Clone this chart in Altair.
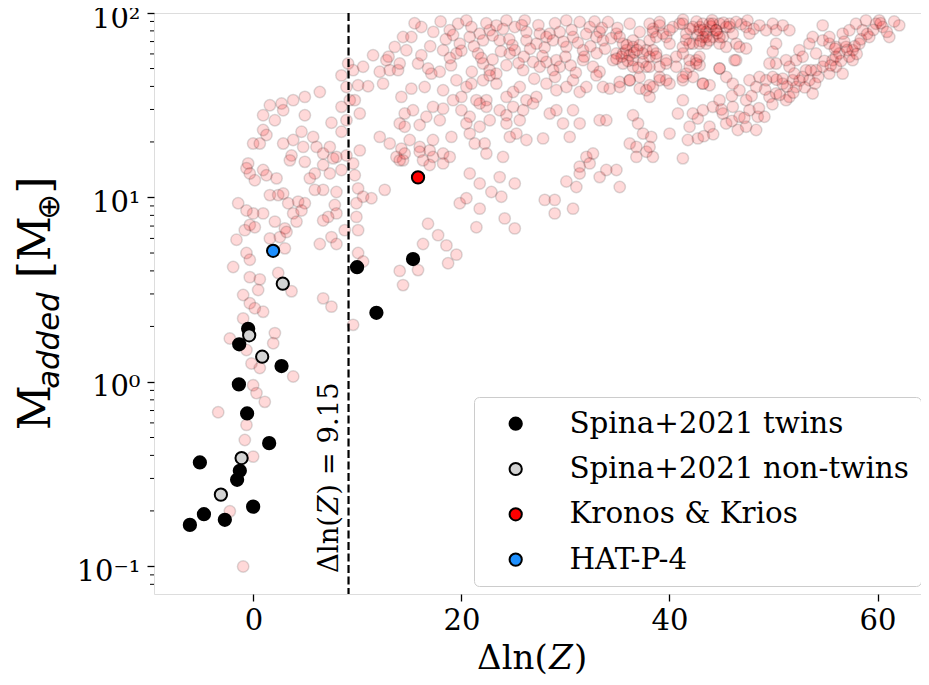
import altair as alt
import pandas as pd

# ---------------- data ----------------
# background model cloud: (delta ln Z, M_added [M_earth])
cloud_left = [
    (9.11, 53.2), (8.47, 45.9), (9.59, 49.0), (10.55, 51.1), (11.51, 59.0), (12.79, 55.5), (13.59, 65.5),
    (14.39, 74.1), (12.15, 48.0), (13.11, 49.0), (10.07, 40.6), (11.03, 40.1), (8.95, 39.7), (9.27, 33.7),
    (9.75, 33.7), (8.47, 31.0), (10.23, 28.5), (8.95, 26.2), (7.51, 25.4), (8.47, 22.7), (6.39, 37.3),
    (4.95, 35.1), (3.83, 33.7), (2.71, 32.3), (1.59, 31.6), (0.94, 27.9), (2.07, 26.2), (4.95, 27.9),
    (2.87, 29.7), (0.94, 23.2), (1.26, 21.8), (-0.02, 19.6), (0.62, 19.6), (2.87, 19.6), (3.83, 20.5),
    (4.63, 22.7), (5.75, 21.3), (4.79, 18.8), (3.67, 16.9), (3.51, 15.9), (4.95, 15.6), (6.07, 18.8),
    (6.71, 17.3), (7.35, 18.8), (7.99, 16.6), (8.95, 16.9), (9.59, 15.3), (8.47, 14.1), (7.67, 16.3),
    (5.91, 13.5), (6.71, 15.0), (5.43, 12.7), (6.71, 11.0), (7.99, 10.7), (5.91, 11.0), (7.35, 13.5),
    (9.75, 13.2), (10.23, 18.0), (10.07, 11.2), (10.55, 10.1), (11.35, 9.9), (12.63, 11.0), (-0.50, 15.3),
    (-0.66, 14.4), (0.14, 12.4), (-0.34, 13.5), (0.94, 14.1), (1.26, 13.2), (2.23, 12.7), (1.59, 10.3),
    (2.39, 10.3), (2.87, 10.5), (3.35, 9.3), (4.31, 9.5), (4.95, 9.3), (3.83, 8.2), (4.63, 8.5),
    (4.15, 7.4), (3.03, 6.8), (2.07, 7.4), (0.94, 8.2), (-0.02, 8.2), (-0.66, 8.5), (-1.46, 9.3),
    (-0.82, 6.65), (-0.34, 7.1), (-1.62, 5.9), (1.59, 6.0), (2.55, 6.1), (3.19, 6.5), (3.03, 5.3),
    (0.14, 6.9), (-0.66, 5.0), (-0.34, 4.6), (-1.94, 4.2), (-0.34, 3.7), (0.62, 3.6), (0.46, 3.15),
    (-0.98, 2.96), (2.39, 3.9), (3.67, 3.1), (6.71, 2.84), (7.51, 6.1), (6.39, 5.6), (7.99, 5.6),
    (8.79, 6.65), (10.07, 6.65), (9.91, 7.85), (9.91, 9.3), (7.83, 9.1), (7.99, 8.2), (7.19, 7.85),
    (6.71, 7.5), (10.07, 5.0), (10.55, 4.5), (14.07, 4.0), (14.39, 3.35), (12.47, 41.4), (13.91, 49.0),
    (12.15, 21.3), (13.11, 19.6), (14.23, 18.4), (13.75, 16.6), (14.39, 15.9),
    (-0.34, 2.67), (0.94, 2.40), (0.14, 2.51), (-0.98, 2.21), (-2.26, 1.72), (-0.66, 1.49), (-0.18, 1.26),
    (0.62, 1.19), (2.07, 1.84), (1.91, 1.62), (7.51, 2.56), (9.59, 2.04), (3.83, 1.07), (-0.02, 0.96),
    (0.30, 0.87), (1.10, 0.78), (-3.38, 0.685), (-0.66, 0.585), (-0.82, 0.485), (-0.02, 0.394),
    (-2.26, 0.199), (-0.98, 0.100),
]
cloud_mid = [
    (16.15, 84.0), (18.88, 80.6), (19.68, 87.5), (20.48, 91.2), (20.96, 84.0), (21.76, 77.3), (22.72, 80.6),
    (23.36, 85.7), (24.33, 91.2), (25.13, 84.0), (26.09, 91.2), (26.25, 78.9), (27.53, 77.3), (28.49, 77.3),
    (29.45, 78.9), (30.09, 91.2), (31.37, 89.4), (32.33, 84.0), (33.29, 78.9), (34.09, 89.4), (34.90, 77.3),
    (36.18, 87.5), (37.14, 78.9), (38.42, 82.2),
    (15.19, 74.1), (18.24, 62.8), (19.84, 68.2), (20.80, 74.1), (22.08, 71.1), (19.52, 60.3), (21.60, 60.3),
    (23.68, 71.1), (24.65, 60.3), (25.13, 62.8), (26.25, 71.1), (27.21, 68.2), (28.17, 74.1), (28.81, 71.1),
    (30.09, 65.5), (30.73, 74.1), (31.69, 62.8), (32.97, 74.1), (33.61, 71.1), (34.90, 60.3), (35.54, 68.2),
    (36.50, 71.1), (37.78, 62.8),
    (14.71, 62.8), (14.07, 53.2), (16.15, 59.0), (15.83, 53.2), (22.08, 53.2), (22.72, 49.0), (23.36, 46.9),
    (24.33, 52.1), (25.93, 49.0), (26.89, 54.3), (27.53, 51.1), (28.17, 54.3), (29.13, 55.5), (29.45, 51.1),
    (28.81, 49.0), (31.69, 55.5), (32.65, 51.1), (33.29, 48.0), (34.58, 55.5), (35.54, 60.3), (36.50, 55.5),
    (37.78, 51.1),
    (17.11, 46.9), (17.92, 48.0), (18.24, 38.1), (16.47, 39.7), (15.19, 38.9), (14.23, 35.1), (19.52, 43.2),
    (20.48, 39.7), (20.00, 35.1), (20.96, 41.4), (22.08, 43.2), (22.72, 45.9), (21.44, 33.7), (22.40, 33.7),
    (23.36, 41.4), (24.33, 35.1), (24.97, 37.3), (25.61, 39.7), (26.25, 33.7), (27.21, 35.1), (28.17, 41.4),
    (29.13, 38.1), (30.09, 39.7), (30.73, 43.2), (31.37, 37.3), (32.01, 39.7), (32.97, 45.9), (33.61, 39.7),
    (34.26, 38.9), (35.22, 39.7), (36.18, 43.2), (37.14, 38.9),
    (14.55, 28.5), (15.35, 29.7), (17.27, 31.0), (18.24, 30.3), (19.20, 33.7), (20.00, 29.7), (21.76, 32.3),
    (22.40, 31.0), (23.68, 29.7), (24.33, 27.9), (24.97, 31.0), (25.93, 29.7), (26.89, 32.3), (25.61, 26.2),
    (24.33, 25.2), (22.72, 26.2), (21.76, 24.2), (20.80, 27.4), (20.48, 25.2), (17.92, 26.2), (16.63, 27.4),
    (15.99, 24.7), (14.07, 25.2), (28.49, 28.5), (29.13, 29.7), (29.77, 25.2), (30.73, 29.7), (31.37, 25.2),
    (33.29, 26.2), (33.93, 26.2),
    (14.55, 24.2), (15.03, 20.5), (15.99, 18.8), (17.27, 20.5), (16.95, 18.0), (17.27, 16.6), (19.04, 21.3),
    (20.80, 22.2), (21.28, 19.6), (22.24, 19.6), (22.40, 17.3), (24.00, 16.6), (24.65, 21.3), (25.29, 22.2),
    (26.25, 20.5), (27.85, 20.9), (30.41, 21.3),
    (14.07, 15.9), (14.55, 17.3), (15.99, 17.7), (16.31, 15.9), (16.95, 15.0), (18.24, 17.3), (18.88, 16.6),
    (18.24, 15.3), (20.80, 13.5), (21.76, 11.9), (23.68, 12.9), (25.13, 11.9), (30.09, 12.2), (31.05, 11.4),
    (31.37, 14.7), (32.01, 16.6), (32.65, 17.3), (32.33, 15.3), (33.29, 12.9), (33.93, 14.1), (34.90, 14.1),
    (35.22, 11.4), (31.37, 13.5),
    (19.84, 9.3), (20.48, 9.9), (21.76, 8.7), (22.88, 10.7), (23.84, 10.1), (28.01, 9.7), (28.97, 9.7),
    (28.97, 8.2), (30.73, 8.7), (21.44, 6.9), (24.16, 7.7), (25.13, 6.8), (16.79, 7.2), (16.31, 5.6),
    (17.76, 6.25), (18.56, 5.5), (19.52, 4.9), (18.72, 4.4), (15.83, 4.04),
    (36.18, 19.6), (36.82, 18.8), (37.46, 22.2), (37.78, 17.7), (36.82, 16.6), (36.50, 27.9), (36.98, 25.2),
    (31.8, 58.0), (33.0, 60.5), (32.4, 66.0), (33.8, 64.0), (30.5, 52.0), (31.0, 47.5), (29.0, 45.0),
    (27.0, 44.0), (26.0, 58.0), (24.9, 67.0), (23.0, 56.0), (21.0, 48.0), (19.0, 52.0), (18.5, 72.0),
    (17.0, 66.0),
    (15.5, 88.0), (17.3, 79.0), (18.0, 90.0), (19.2, 76.0), (21.2, 66.0), (22.4, 88.0), (23.0, 75.5),
    (24.0, 82.0), (24.6, 72.0), (25.8, 86.0), (26.6, 64.0), (27.4, 86.0), (28.0, 65.0), (29.0, 88.0),
    (29.8, 70.0), (30.6, 81.0), (31.2, 69.0), (32.0, 77.0), (32.8, 90.0), (33.5, 83.0), (34.4, 73.0),
    (35.0, 83.0), (13.0, 58.0), (16.8, 50.0), (18.9, 57.0), (20.0, 62.5), (21.9, 57.0), (23.8, 62.0),
    (25.5, 53.5), (27.8, 58.5), (30.0, 58.0),
]
cloud_dense = [
    (35.21, 74.1), (35.85, 62.8), (36.17, 59.0), (36.49, 65.5), (37.13, 66.9), (37.45, 60.3), (38.09, 71.1),
    (38.41, 78.9), (39.05, 85.7), (39.69, 74.1), (40.33, 84.0), (40.97, 87.5), (41.61, 77.3), (42.26, 68.2),
    (42.58, 55.5), (42.90, 84.0), (43.54, 78.9), (44.18, 74.1), (44.82, 87.5), (45.78, 84.0), (46.42, 68.2),
    (35.53, 53.2), (36.49, 51.1), (37.45, 54.3), (38.09, 57.9), (38.73, 60.3), (39.05, 51.1), (39.69, 53.2),
    (40.65, 57.9), (41.29, 60.3), (41.61, 46.9), (41.94, 51.1), (42.90, 52.1), (43.54, 68.2), (43.22, 74.1),
    (44.50, 80.6), (45.14, 74.1), (43.86, 87.5), (35.21, 42.3), (36.17, 43.2), (37.13, 45.0), (37.77, 38.1),
    (38.09, 40.6), (39.05, 43.2), (40.01, 41.4), (41.29, 43.2), (42.26, 45.0), (43.22, 41.4), (44.82, 50.0),
    (46.26, 55.5), (43.86, 40.6), (45.46, 45.0),
    (36.0, 55.0), (36.6, 61.0), (35.4, 58.0), (37.0, 50.5), (34.9, 56.5), (35.9, 67.0), (36.9, 63.0),
    (42.0, 82.0), (42.7, 76.0), (43.3, 81.0), (44.0, 84.5), (41.6, 71.5), (43.0, 70.5), (44.6, 77.5),
    (45.2, 88.5), (41.3, 92.0), (42.6, 90.0), (44.1, 91.5), (46.9, 87.0), (48.1, 82.0), (47.5, 91.0),
]
cloud_right = [
    (38.09, 87.5), (39.05, 89.4), (39.37, 77.3), (40.01, 80.6), (41.29, 87.5), (42.25, 84.0), (42.89, 80.6),
    (43.21, 87.5), (43.53, 74.1), (44.17, 87.5), (44.49, 80.6), (43.85, 71.1), (44.81, 74.1), (45.45, 84.0),
    (45.77, 87.5), (46.09, 77.3), (46.41, 89.4), (47.37, 84.0), (47.69, 77.3), (48.65, 85.7), (49.29, 80.6),
    (49.93, 87.5), (50.25, 80.6), (50.89, 85.7), (51.53, 80.6), (46.73, 65.5), (47.37, 64.2), (45.45, 65.5),
    (44.81, 68.2), (42.89, 68.2), (41.93, 68.2), (41.29, 65.5), (40.01, 68.2), (38.73, 74.1), (38.41, 62.8),
    (38.73, 57.9), (39.69, 55.5), (38.09, 51.1), (39.05, 45.0), (40.65, 51.1), (41.29, 45.0), (41.93, 55.5),
    (42.57, 53.2), (42.89, 57.9), (43.21, 41.4), (44.81, 50.0), (46.41, 55.5), (38.41, 39.7), (39.69, 43.2),
    (38.09, 35.1), (38.25, 21.3), (38.09, 18.8), (38.41, 16.6), (40.01, 22.2), (41.29, 33.7), (40.81, 28.5),
    (41.93, 24.2), (41.77, 20.5), (42.73, 20.9), (41.29, 16.3), (42.25, 28.5), (42.73, 26.8), (43.21, 29.7),
    (43.85, 24.2), (44.17, 31.0), (44.81, 33.7), (45.45, 25.2), (45.13, 28.5), (46.09, 31.0), (46.57, 23.2),
    (46.73, 27.4), (47.37, 33.7), (47.69, 29.7), (47.37, 24.2), (48.33, 23.2), (48.49, 27.4), (49.13, 27.4),
    (46.09, 41.4), (46.73, 38.1), (47.69, 43.2), (48.33, 39.7), (48.65, 45.0), (49.29, 43.2), (49.93, 45.0),
    (49.61, 35.1), (50.25, 36.6), (50.89, 41.4), (51.21, 33.7), (51.53, 35.1), (51.85, 43.2), (52.17, 39.7),
    (52.81, 45.0), (53.13, 49.0), (53.45, 43.2), (53.77, 36.6), (51.53, 51.1), (51.21, 55.5), (52.17, 55.5),
    (52.49, 62.8), (52.81, 57.9), (53.45, 68.2), (54.09, 60.3), (54.09, 49.0), (54.73, 51.1), (55.37, 46.9),
    (55.69, 55.5), (56.01, 51.1), (56.33, 60.3), (56.65, 46.9), (56.97, 65.5), (57.29, 57.9), (57.61, 62.8),
    (56.01, 65.5), (55.37, 68.2), (54.73, 71.1), (53.77, 74.1), (54.73, 85.7), (55.37, 74.1), (56.65, 77.3),
    (57.93, 87.5), (58.57, 80.6), (59.21, 74.1), (59.85, 87.5), (60.17, 91.2), (60.49, 84.0), (61.13, 74.1),
    (62.09, 85.7), (58.89, 91.2), (57.29, 80.6), (58.25, 68.2), (57.61, 55.5), (50.25, 68.2), (49.93, 61.6),
    (50.25, 53.2), (49.61, 53.2), (50.89, 44.1),
    (47.2, 27.0), (47.9, 35.5), (48.6, 30.5), (49.2, 38.5), (49.9, 32.0), (50.6, 36.0), (51.3, 40.0),
    (51.9, 37.0), (52.5, 43.0), (53.0, 39.5), (53.6, 49.0), (54.3, 45.0), (54.9, 55.0), (55.5, 52.0),
    (56.0, 58.0), (56.5, 55.0), (57.1, 63.0), (57.8, 66.0), (58.4, 72.0), (59.0, 77.0), (59.6, 81.0),
    (60.3, 88.0), (60.9, 79.0), (61.6, 90.0), (58.0, 60.0), (56.8, 70.0), (55.9, 64.0), (54.0, 41.5),
    (52.0, 47.0), (50.3, 43.5), (46.0, 26.0), (45.0, 30.0), (44.2, 22.0), (43.3, 21.5), (46.0, 35.5),
]

# Spina+2021 twins
twins_x = [9.97, 11.83, -0.50, -1.36, 2.71, -1.39, -0.60, 1.52, -5.14, -1.30, -1.56, -4.75, -6.10, -2.74, -0.02, 15.35]
twins_y = [4.19, 2.37, 1.94, 1.60, 1.22, 0.97, 0.675, 0.466, 0.366, 0.330, 0.295, 0.192, 0.168, 0.179, 0.211, 4.64]
# Spina+2021 non-twins
nontwins_x = [2.83, -0.40, 0.85, -1.13, -3.12]
nontwins_y = [3.41, 1.79, 1.37, 0.387, 0.245]
# Kronos & Krios, HAT-P-4
kronos_x, kronos_y = [15.83], [12.85]
hat_x, hat_y = [1.90], [5.14]

groups = ["Spina+2021 twins", "Spina+2021 non-twins", "Kronos & Krios", "HAT-P-4"]
group_colors = ["#000000", "#d3d3d3", "#ff0000", "#1e90ff"]

threshold = [9.15]
x_ticks = [0, 20, 40, 60]
y_ticks = [0.1, 1, 10, 100]
y_minor = [0.08, 0.09, 0.2, 0.3, 0.4, 0.5, 0.6, 0.7, 0.8, 0.9, 2, 3, 4, 5, 6, 7, 8, 9,
           20, 30, 40, 50, 60, 70, 80, 90]

# ---------------- tables ----------------
cloud = pd.DataFrame(cloud_left + cloud_mid + cloud_dense + cloud_right, columns=["dlnz", "madd"])
special = pd.concat([
    pd.DataFrame({"dlnz": twins_x, "madd": twins_y, "group": groups[0]}),
    pd.DataFrame({"dlnz": nontwins_x, "madd": nontwins_y, "group": groups[1]}),
    pd.DataFrame({"dlnz": kronos_x, "madd": kronos_y, "group": groups[2]}),
    pd.DataFrame({"dlnz": hat_x, "madd": hat_y, "group": groups[3]}),
], ignore_index=True)

SERIF = "DejaVu Serif"
W, H = 767, 581
xscale = alt.Scale(domain=[-9.55, 64.18], nice=False, zero=False)
yscale = alt.Scale(type="log", domain=[0.0709, 100], nice=False)

xaxis = alt.Axis(values=x_ticks, format="d", title=None, labelFont=SERIF, labelFontSize=29,
                 labelColor="black", tickSize=7, tickWidth=1.3, tickColor="black",
                 labelPadding=5, domain=False, grid=False)
yaxis = alt.Axis(values=y_ticks, title=None, labelFont=SERIF, labelFontSize=29,
                 labelColor="black", tickSize=7, tickWidth=1.3, tickColor="black",
                 labelPadding=7, labelOffset=5, domain=False, grid=False,
                 labelExpr="datum.value < 0.5 ? '10⁻¹' : datum.value < 5 ? '10⁰' : datum.value < 50 ? '10¹' : '10²'")

X = lambda f: alt.X(f, scale=xscale, axis=xaxis)
Y = lambda f: alt.Y(f, scale=yscale, axis=yaxis)

bg = alt.Chart(cloud).mark_circle(
    size=130, fill="red", fillOpacity=0.15, stroke="black", strokeOpacity=0.14, strokeWidth=1.5, opacity=1
).encode(x=X("dlnz:Q"), y=Y("madd:Q"))

minor = alt.Chart(pd.DataFrame({"v": y_minor})).mark_rule(color="black", strokeWidth=1).encode(
    y=Y("v:Q"), x=alt.value(0), x2=alt.value(-4),
)

vline = alt.Chart(pd.DataFrame({"t": threshold})).mark_rule(
    color="black", strokeWidth=2.2, strokeDash=[8, 3.5]
).encode(x=X("t:Q"))

pts = alt.Chart(special).transform_calculate(
    order="indexof(['Spina+2021 twins','Spina+2021 non-twins','Kronos & Krios','HAT-P-4'], datum.group)"
).mark_circle(size=150, stroke="black", strokeWidth=2, opacity=1).encode(
    x=X("dlnz:Q"),
    y=Y("madd:Q"),
    fill=alt.Fill("group:N", scale=alt.Scale(domain=groups, range=group_colors),
                  legend=alt.Legend(title=None, orient="none", legendX=320, legendY=384,
                                    padding=12, symbolOffset=15, labelOffset=39, rowPadding=14.3,
                                    symbolSize=150, symbolType="circle", symbolStrokeColor="black",
                                    symbolStrokeWidth=2, labelFont=SERIF, labelFontSize=29.4,
                                    labelColor="black", labelLimit=600,
                                    strokeColor="#cccccc", fillColor="rgba(255,255,255,0.8)",
                                    cornerRadius=5)),
    order=alt.Order("order:Q"),
)


def txt(s, x, y, size, angle=0, italic=False, font=SERIF, align="left"):
    props = dict(fontSize=size, font=font, align=align, baseline="alphabetic", color="black", angle=angle)
    if italic:
        props["fontStyle"] = "italic"
    return alt.Chart(pd.DataFrame({"s": [s]})).mark_text(**props).encode(
        text="s:N", x=alt.value(x), y=alt.value(y))


# annotation along the dashed line, rotated (reads bottom to top)
FA = 27.5
a0 = 560


def ann_piece(s, y, italic=False):
    props = dict(angle=270, align="left", baseline="alphabetic", fontSize=FA, font=SERIF, dy=-11, color="black")
    if italic:
        props["fontStyle"] = "italic"
    return alt.Chart(pd.DataFrame({"t": threshold, "s": [s]})).mark_text(**props).encode(
        x=X("t:Q"), y=alt.value(y), text="s:N")


ann = [
    ann_piece("Δln(", a0),
    ann_piece("Z", a0 - 2.124 * FA, italic=True),
    ann_piece(") = 9.15", a0 - (2.124 + 0.72) * FA),
]

# x-axis title  Δln(Z)
FT = 34
xt0 = 377 - 3.17 * FT / 2
xt_y = 656
xtitle = [
    txt("Δln(", xt0, xt_y, FT),
    txt("Z", xt0 + 2.124 * FT, xt_y, FT, italic=True),
    txt(")", xt0 + 2.85 * FT, xt_y, FT),
]

# y-axis title  M_added [M_⊕]  (rotated)
FY = 44
FS = FY * 0.7
yx = -104
ylen = 0.944 * FY + 3.133 * FS + 0.318 * FY + 0.39 * FY + 0.944 * FY + 0.838 * FS + 0.39 * FY
y0 = 290.5 + ylen / 2
p1 = y0 - 0.944 * FY
p2 = p1 - 3.133 * FS - 0.318 * FY
p3 = p2 - (0.39 + 0.944) * FY
p4 = p3 - 0.838 * FS
ytitle = [
    txt("M", yx, y0, FY, angle=270),
    txt("added", yx + 9, p1, FS, angle=270, italic=True, font="DejaVu Sans"),
    txt("[M", yx, p2, FY, angle=270),
    txt("⊕", yx + 9, p3, FS, angle=270, font="DejaVu Sans"),
    txt("]", yx, p4, FY, angle=270),
]

chart = alt.layer(bg, minor, vline, pts, *ann, *xtitle, *ytitle).properties(
    width=W, height=H,
    padding={"left": 146, "top": 5, "right": 0, "bottom": 82},
    autosize=alt.AutoSizeParams(type="none"),
).configure_view(stroke="black", strokeWidth=1.5).configure(background="white")

chart.save("out.html", embed_options={"renderer": "svg", "actions": False})
